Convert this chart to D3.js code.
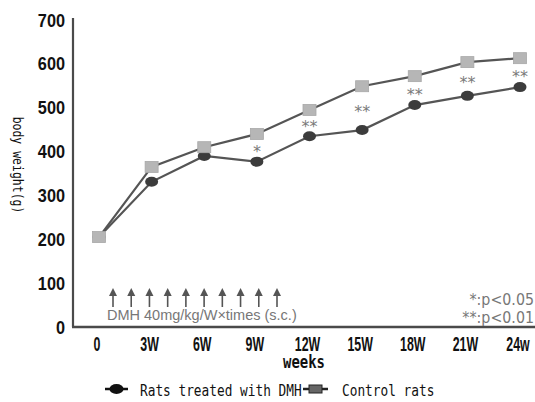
<!DOCTYPE html>
<html>
<head>
<meta charset="utf-8">
<script src="https://cdn.jsdelivr.net/npm/d3@7"></script>
<style>
  body { margin: 0; background: #fff; }
  svg { display: block; }
</style>
</head>
<body>
<div id="chart"></div>
<script>
// chart values
const weeks = ["0", "3W", "6W", "9W", "12W", "15W", "18W", "21W", "24w"];
const dmhRats = [205, 331, 390, 377, 435, 449, 506, 527, 547];
const controlRats = [205, 365, 410, 440, 495, 549, 572, 604, 613];
const stars = ["", "", "", "*", "**", "**", "**", "**", "**"];
const yTicks = [0, 100, 200, 300, 400, 500, 600, 700];
const doseCount = 10;

const width = 535, height = 402;
const svg = d3.select("#chart").append("svg")
  .attr("width", width).attr("height", height);

const x = d3.scalePoint().domain(weeks).range([99, 520]);
const y = d3.scaleLinear().domain([0, 700]).range([327, 20]);

const axisColor = "#4a4a4a";
const lineColor = "#555";
const numFont = "'Liberation Sans', Arial, sans-serif";
const monoFont = "'DejaVu Sans Mono', monospace";

// text squeezed sideways, to mimic the narrow fonts of the original
function narrowText(parent, tx, ty, sx, str) {
  return parent.append("text")
    .attr("transform", `translate(${tx},${ty}) scale(${sx},1)`)
    .text(str);
}

// axes
svg.append("line").attr("x1", 73).attr("x2", 73).attr("y1", 18).attr("y2", y(0))
  .attr("stroke", axisColor).attr("stroke-width", 2.2);
svg.append("line").attr("x1", 72).attr("x2", width).attr("y1", y(0)).attr("y2", y(0))
  .attr("stroke", axisColor).attr("stroke-width", 2.5);

const yLab = svg.append("g")
  .attr("text-anchor", "end").attr("font-family", numFont)
  .attr("font-weight", "bold").attr("font-size", 18.5).attr("fill", "#111");
yTicks.forEach(d => narrowText(yLab, 65, y(d) + 6.5, 0.88, d));

const xLab = svg.append("g")
  .attr("text-anchor", "middle").attr("font-family", numFont)
  .attr("font-weight", "bold").attr("font-size", 20).attr("fill", "#111");
weeks.forEach(d => narrowText(xLab, x(d) - 2, 350.5, 0.62, d));

svg.append("text")
  .attr("transform", "translate(304,368) scale(0.82,1)")
  .attr("text-anchor", "middle")
  .attr("font-family", monoFont).attr("font-weight", "bold")
  .attr("font-size", 17).attr("fill", "#111")
  .text("weeks");

svg.append("text")
  .attr("transform", "translate(13,165) rotate(90) scale(0.82,1)")
  .attr("text-anchor", "middle")
  .attr("font-family", monoFont)
  .attr("font-size", 14).attr("fill", "#111")
  .text("body weight(g)");

// lines
const lineGen = d3.line().x((d, i) => x(weeks[i])).y(d => y(d));
svg.append("path").datum(controlRats).attr("d", lineGen)
  .attr("fill", "none").attr("stroke", lineColor).attr("stroke-width", 2.2);
svg.append("path").datum(dmhRats).attr("d", lineGen)
  .attr("fill", "none").attr("stroke", lineColor).attr("stroke-width", 2.2);

svg.append("g").selectAll("ellipse").data(dmhRats).join("ellipse")
  .attr("cx", (d, i) => x(weeks[i])).attr("cy", d => y(d))
  .attr("rx", 6.5).attr("ry", 5).attr("fill", "#3c3c3c");

svg.append("g").selectAll("rect").data(controlRats).join("rect")
  .attr("x", (d, i) => x(weeks[i]) - 6.5).attr("y", d => y(d) - 5.5)
  .attr("width", 13).attr("height", 11).attr("fill", "#b6b6b6")
  .attr("stroke", "#a8a8a8").attr("stroke-width", 0.8);

// significance marks, between the two curves
svg.append("g").selectAll("text").data(stars).join("text")
  .attr("x", (d, i) => x(weeks[i]))
  .attr("y", (d, i) => (y(dmhRats[i]) + y(controlRats[i])) / 2 + 9)
  .attr("text-anchor", "middle")
  .attr("font-family", "'DejaVu Sans', sans-serif")
  .attr("font-size", 16).attr("fill", "#7a7a7a")
  .text(d => d);

// dosing arrows
const arrowX = d3.scaleLinear().domain([0, doseCount - 1]).range([113, 277]);
const arrows = svg.append("g").attr("fill", "#555").attr("stroke", "#555");
d3.range(doseCount).forEach(i => {
  const ax = arrowX(i);
  arrows.append("line").attr("x1", ax).attr("x2", ax).attr("y1", 293).attr("y2", 307)
    .attr("stroke-width", 1.6);
  arrows.append("path")
    .attr("d", `M${ax},288 L${ax - 4},296 L${ax + 4},296 Z`).attr("stroke", "none");
});
svg.append("text").attr("x", 107).attr("y", 320)
  .attr("font-family", "'Liberation Sans', sans-serif")
  .attr("font-size", 14.5).attr("fill", "#777")
  .text("DMH 40mg/kg/W×times (s.c.)");

const pKey = svg.append("g").attr("text-anchor", "end")
  .attr("font-family", "'DejaVu Sans', sans-serif")
  .attr("font-size", 15).attr("fill", "#777");
narrowText(pKey, 534, 305, 0.95, "*:p<0.05");
narrowText(pKey, 534, 323, 0.95, "**:p<0.01");

// legend
const lg = svg.append("g").attr("font-family", monoFont).attr("font-size", 16).attr("fill", "#111");
lg.append("line").attr("x1", 105).attr("x2", 128).attr("y1", 389).attr("y2", 389)
  .attr("stroke", "#111").attr("stroke-width", 2.5);
lg.append("ellipse").attr("cx", 116.5).attr("cy", 389).attr("rx", 7).attr("ry", 5).attr("fill", "#111");
narrowText(lg, 140, 396, 0.8, "Rats treated with DMH");
lg.append("line").attr("x1", 303).attr("x2", 328).attr("y1", 389).attr("y2", 389)
  .attr("stroke", "#222").attr("stroke-width", 2.5);
lg.append("rect").attr("x", 309).attr("y", 385).attr("width", 13).attr("height", 8).attr("fill", "#666")
  .attr("stroke", "#222").attr("stroke-width", 1);
narrowText(lg, 342, 396, 0.8, "Control rats");
</script>
</body>
</html>
